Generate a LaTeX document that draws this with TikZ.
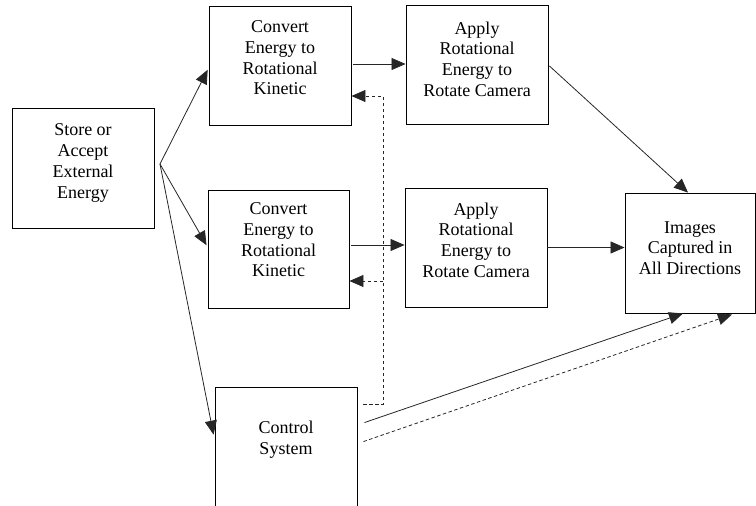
\documentclass[tikz,border=0pt]{standalone}
\usepackage{fontspec}
\setmainfont{Liberation Serif}
\usetikzlibrary{arrows.meta,calc}

\tikzset{
  box/.style={draw=black, line width=0.9pt, rectangle, inner sep=0pt},
  txt/.style={align=center, inner sep=0pt, font=\fontsize{18}{20.7}\selectfont},
  conn/.style={draw=black!85, line width=0.8pt},
  arr/.style={conn, -{Triangle[length=14pt,width=12pt]}},
  dashline/.style={conn, dash pattern=on 3.5pt off 2.5pt},
  dasharr/.style={dashline, -{Triangle[length=14pt,width=12pt]}},
}

\begin{document}
\begin{tikzpicture}[x=1pt,y=-1pt]
  \useasboundingbox (0,0) rectangle (756,506);

  % boxes
  \node[box, minimum width=142pt, minimum height=120pt] (store) at (83,168) {};
  \node[box, minimum width=142pt, minimum height=119pt] (c1) at (280,65.5) {};
  \node[box, minimum width=141pt, minimum height=118pt] (c2) at (278.5,249) {};
  \node[box, minimum width=142pt, minimum height=119pt] (a1) at (477,64.5) {};
  \node[box, minimum width=142pt, minimum height=119pt] (a2) at (476,247.5) {};
  \node[box, minimum width=130pt, minimum height=120pt] (img) at (690,253) {};
  \node[box, minimum width=142pt, minimum height=123pt] (ctrl) at (286,448.5) {};

  % labels
  \node[txt] (storeT) at (83,163) {Store or\\Accept\\External\\Energy};
  \node[txt] (c1T) at (280,58) {Convert\\Energy to\\Rotational\\Kinetic};
  \node[txt] (c2T) at (278.5,240) {Convert\\Energy to\\Rotational\\Kinetic};
  \node[txt] (a1T) at (477,59) {Apply\\Rotational\\Energy to\\Rotate Camera};
  \node[txt] (a2T) at (476,240) {Apply\\Rotational\\Energy to\\Rotate Camera};
  \node[txt] (imgT) at (690,248) {Images\\Captured in\\All Directions};
  \node[txt] (ctrlT) at (286,440) {Control\\System};

  % energy fan-out
  \coordinate (fan) at (160,164);
  \draw[arr, shorten >=2pt] (fan) -- ($(c1.west)+(0,2.5)$);
  \draw[arr, shorten >=2pt] (fan) -- ($(c2.west)+(0,-2)$);
  \draw[arr, shorten >=5pt] (fan) -- ($(ctrl.north west)+(0,53)$);

  % conversion to camera rotation
  \draw[arr] ($(c1.east)+(2,-1.5)$) -- ($(c1.east -| a1.west)+(0,-1.5)$);
  \draw[arr] ($(c2.east)+(2,-4)$) -- ($(c2.east -| a2.west)+(0,-4)$);

  % camera rotation to images
  \draw[arr] ($(a1.east)+(1,1.5)$) -- ($(img.north)+(-2,0)$);
  \draw[arr] (a2.east) -- (a2.east -| img.west);

  % control outputs
  \draw[arr] ($(ctrl.north east)+(7,36)$) -- ($(img.south)+(-7,0)$);
  \draw[dasharr] ($(ctrl.north east)+(6,55)$) -- ($(img.south)+(42,1)$);

  % control feedback
  \coordinate (fbtop) at (383,96);
  \coordinate (fbmid) at (383,281);
  \draw[dasharr] ($(ctrl.north east)+(6,18)$) -| (fbtop) -- (fbtop -| c1.east);
  \draw[dasharr] (fbmid) -- (fbmid -| c2.east);
\end{tikzpicture}
\end{document}
